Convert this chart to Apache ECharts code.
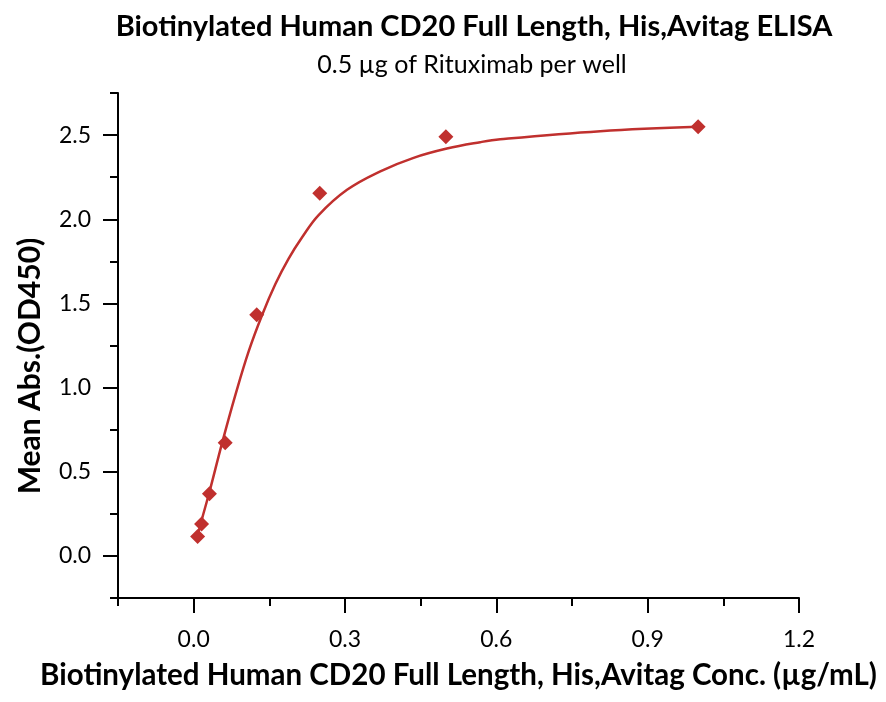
<!DOCTYPE html>
<html>
<head>
<meta charset="utf-8">
<script src="https://cdn.jsdelivr.net/npm/echarts@6/dist/echarts.min.js"></script>
<style>html,body{margin:0;padding:0;background:#fff}#c{width:886px;height:702px}</style>
</head>
<body>
<div id="c"></div>
<script>
const titleText = 'Biotinylated Human CD20 Full Length, His,Avitag ELISA';
const subtitleText = '0.5 µg of Rituximab per well';
const xName = 'Biotinylated Human CD20 Full Length, His,Avitag Conc. (µg/mL)';
const yName = 'Mean Abs.(OD450)';

const concentrations = [0.0078125, 0.015625, 0.03125, 0.0625, 0.125, 0.25, 0.5, 1.0];
const meanAbs = [0.115, 0.19, 0.37, 0.673, 1.433, 2.155, 2.49, 2.549];

// fitted curve
const fitX = [0.0078, 0.0156, 0.03125, 0.0563, 0.0826, 0.109, 0.1355, 0.162, 0.188, 0.215, 0.2477, 0.304, 0.37, 0.436, 0.502, 0.568, 0.6076, 0.806, 1.0];
const fitY = [0.12, 0.21, 0.38, 0.67, 0.955, 1.215, 1.43, 1.615, 1.765, 1.893, 2.025, 2.175, 2.285, 2.365, 2.42, 2.458, 2.475, 2.523, 2.549];

const xMajor = [0, 0.3, 0.6, 0.9, 1.2];
const xMinor = [-0.15, 0.15, 0.45, 0.75, 1.05];
const yMajor = [0, 0.5, 1.0, 1.5, 2.0, 2.5];
const yMinor = [-0.25, 0.25, 0.75, 1.25, 1.75, 2.25, 2.75];

const FONT = 'Lato';
const red = '#c0302e';
const chart = echarts.init(document.getElementById('c'));

const axisBase = {
  type: 'value',
  axisLine: { show: true, onZero: false, lineStyle: { color: '#000', width: 2 } },
  splitLine: { show: false },
};

chart.setOption({
  backgroundColor: '#fff',
  animation: false,
  title: [
    { text: titleText, left: 469, top: 7, textAlign: 'center',
      textStyle: { fontFamily: FONT, fontWeight: 'bold', fontSize: 29, color: '#000' } },
    { text: subtitleText, left: 467, top: 47, textAlign: 'center',
      textStyle: { fontFamily: FONT, fontWeight: 'normal', fontSize: 25, color: '#000' } }
  ],
  grid: { left: 118, right: 87, top: 93, bottom: 104, containLabel: false },
  xAxis: [
    Object.assign({}, axisBase, {
      min: -0.15, max: 1.2,
      name: xName, nameLocation: 'middle', nameGap: 62,
      nameTextStyle: { fontFamily: FONT, fontWeight: 'bold', fontSize: 29.5, color: '#000' },
      axisTick: { show: true, length: 15, lineStyle: { color: '#000', width: 2 }, customValues: xMajor },
      axisLabel: { show: true, customValues: xMajor, margin: 30, fontFamily: FONT, fontSize: 23, color: '#000',
        formatter: v => v.toFixed(1) }
    }),
    Object.assign({}, axisBase, {
      min: -0.15, max: 1.2, position: 'bottom',
      axisLine: { show: false, onZero: false },
      axisTick: { show: true, length: 8, lineStyle: { color: '#000', width: 2 }, customValues: xMinor },
      axisLabel: { show: false }
    })
  ],
  yAxis: [
    Object.assign({}, axisBase, {
      min: -0.25, max: 2.75,
      axisTick: { show: true, length: 15, lineStyle: { color: '#000', width: 2 }, customValues: yMajor },
      axisLabel: { show: true, customValues: yMajor, margin: 27, fontFamily: FONT, fontSize: 23, color: '#000',
        formatter: v => v.toFixed(1) }
    }),
    Object.assign({}, axisBase, {
      min: -0.25, max: 2.75, position: 'left',
      axisLine: { show: false, onZero: false },
      axisTick: { show: true, length: 8, lineStyle: { color: '#000', width: 2 }, customValues: yMinor },
      axisLabel: { show: false }
    })
  ],
  graphic: [
    { type: 'text', x: 30, y: 366, rotation: Math.PI / 2,
      style: { text: yName, fontFamily: FONT, fontWeight: 'bold', fontSize: 30, fill: '#000',
        align: 'center', verticalAlign: 'middle' } }
  ],
  series: [
    { type: 'line', xAxisIndex: 0, yAxisIndex: 0, smooth: 0.4, showSymbol: false, z: 2,
      lineStyle: { color: red, width: 2.5 },
      data: fitX.map((x, i) => [x, fitY[i]]) },
    { type: 'scatter', xAxisIndex: 0, yAxisIndex: 0, symbol: 'diamond', symbolSize: 15, z: 3,
      itemStyle: { color: red, opacity: 1 },
      data: concentrations.map((x, i) => [x, meanAbs[i]]) }
  ]
});
</script>
</body>
</html>
